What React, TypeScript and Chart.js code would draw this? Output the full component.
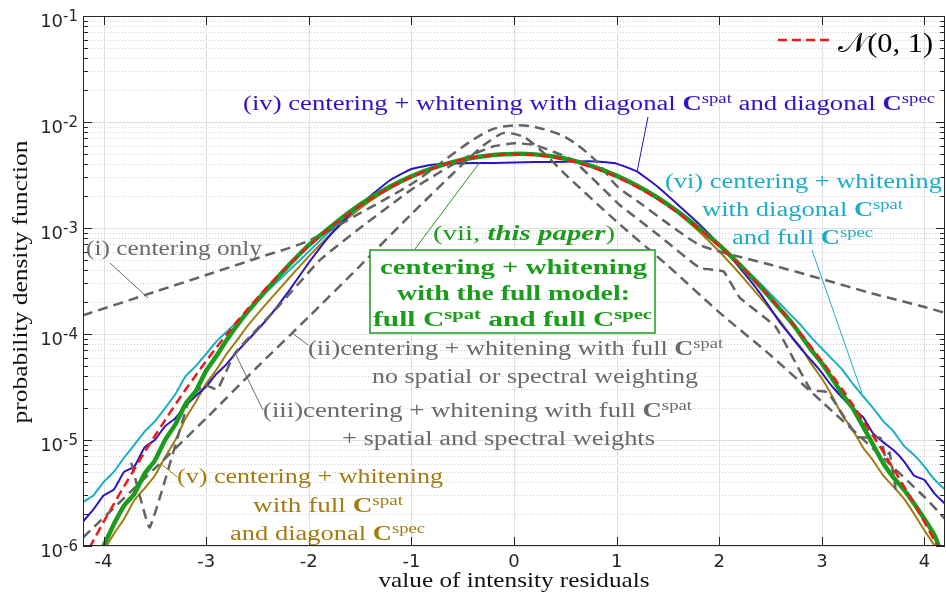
import React, { useEffect, useRef } from 'react';
import { Chart, registerables } from 'chart.js';

Chart.register(...registerables);

// ---------- data ----------
const xGrid = [
  -4.2, -4.1, -4.0, -3.9, -3.8, -3.7, -3.6, -3.5, -3.4, -3.3, -3.2, -3.1, -3.0, -2.9, -2.8, -2.7, -2.6,
  -2.4, -2.2, -2.0, -1.8, -1.6, -1.4, -1.2, -1.0, -0.8, -0.6, -0.4, -0.2, 0, 0.2, 0.4, 0.6, 0.8, 1.0, 1.2, 1.4, 1.6, 1.8, 2.0, 2.2, 2.4,
  2.6, 2.7, 2.8, 2.9, 3.0, 3.1, 3.2, 3.3, 3.4, 3.5, 3.6, 3.7, 3.8, 3.9, 4.0, 4.1, 4.2,
];

// N(0,1) reference (red dashed)
const normalRef = [
  7.4e-7, 1.12e-6, 1.68e-6, 2.49e-6, 3.66e-6, 5.3e-6, 7.7e-6, 1.09e-5, 1.54e-5, 2.16e-5, 2.99e-5, 4.09e-5, 5.56e-5, 7.46e-5, 9.9e-5, 1.31e-4, 1.7e-4,
  2.81e-4, 4.45e-4, 6.77e-4, 9.9e-4, 1.39e-3, 1.88e-3, 2.43e-3, 3.03e-3, 3.63e-3, 4.18e-3, 4.62e-3, 4.9e-3, 5.0e-3, 4.9e-3, 4.62e-3, 4.18e-3, 3.63e-3, 3.03e-3, 2.43e-3, 1.88e-3, 1.39e-3, 9.9e-4, 6.77e-4, 4.45e-4, 2.81e-4,
  1.7e-4, 1.31e-4, 9.9e-5, 7.46e-5, 5.56e-5, 4.09e-5, 2.99e-5, 2.16e-5, 1.54e-5, 1.09e-5, 7.7e-6, 5.3e-6, 3.66e-6, 2.49e-6, 1.68e-6, 1.12e-6, 7.4e-7,
];

// (vii) full model (green)
const fullModel = [
  5e-7, 7e-7, 1.0e-6, 1.6e-6, 2.4e-6, 3.1e-6, 4.8e-6, 6.4e-6, 1.0e-5, 1.4e-5, 2.2e-5, 2.9e-5, 4.5e-5, 6.2e-5, 8.8e-5, 1.2e-4, 1.6e-4,
  2.7e-4, 4.4e-4, 6.9e-4, 1.0e-3, 1.42e-3, 1.92e-3, 2.48e-3, 3.07e-3, 3.65e-3, 4.18e-3, 4.6e-3, 4.88e-3, 5.0e-3, 4.95e-3, 4.7e-3, 4.28e-3, 3.72e-3, 3.1e-3, 2.5e-3, 1.93e-3, 1.42e-3, 1.0e-3, 6.9e-4, 4.5e-4, 2.8e-4,
  1.68e-4, 1.3e-4, 9.6e-5, 7.0e-5, 5.3e-5, 3.8e-5, 2.7e-5, 2.0e-5, 1.35e-5, 9.0e-6, 6.0e-6, 4.4e-6, 3.4e-6, 2.5e-6, 1.8e-6, 1.25e-6, 7e-7,
];

// (iv) diagonal C_spat, diagonal C_spec (blue)
const diagSpatDiagSpec = [
  1.7e-6, 2.2e-6, 3.0e-6, 3.4e-6, 5.0e-6, 5.6e-6, 8.5e-6, 1.0e-5, 1.35e-5, 1.6e-5, 2.1e-5, 2.6e-5, 3.2e-5, 4.2e-5, 5.2e-5, 6.8e-5, 8.6e-5,
  1.4e-4, 2.5e-4, 4.7e-4, 8.4e-4, 1.35e-3, 2.0e-3, 2.85e-3, 3.6e-3, 3.95e-3, 4.05e-3, 4.1e-3, 4.1e-3, 4.15e-3, 4.2e-3, 4.2e-3, 4.25e-3, 4.25e-3, 4.05e-3, 3.4e-3, 2.45e-3, 1.65e-3, 1.1e-3, 7.0e-4, 4.2e-4, 2.4e-4,
  1.25e-4, 9.5e-5, 7.2e-5, 5.6e-5, 4.3e-5, 3.2e-5, 2.5e-5, 2.0e-5, 1.65e-5, 1.15e-5, 9.5e-6, 8.0e-6, 6.3e-6, 4.6e-6, 4.2e-6, 3.1e-6, 2.5e-6,
];

// (vi) diagonal C_spat, full C_spec (cyan)
const diagSpatFullSpec = [
  2.6e-6, 3.0e-6, 4.0e-6, 5.0e-6, 6.8e-6, 9.0e-6, 1.2e-5, 1.5e-5, 2.0e-5, 2.7e-5, 4.0e-5, 5.0e-5, 6.5e-5, 8.5e-5, 1.05e-4, 1.3e-4, 1.65e-4,
  2.55e-4, 3.9e-4, 6.0e-4, 9.2e-4, 1.33e-3, 1.85e-3, 2.42e-3, 3.03e-3, 3.65e-3, 4.2e-3, 4.65e-3, 4.95e-3, 5.1e-3, 5.05e-3, 4.75e-3, 4.3e-3, 3.75e-3, 3.1e-3, 2.45e-3, 1.88e-3, 1.4e-3, 1.0e-3, 6.9e-4, 4.6e-4, 3.0e-4,
  1.9e-4, 1.5e-4, 1.2e-4, 9.2e-5, 7.3e-5, 5.8e-5, 4.6e-5, 3.4e-5, 2.6e-5, 2.0e-5, 1.5e-5, 1.2e-5, 8.8e-6, 7.2e-6, 5.6e-6, 4.2e-6, 3.4e-6,
];

// (v) full C_spat, diagonal C_spec (gold)
const fullSpatDiagSpec = [
  4e-7, 6e-7, 9e-7, 1.3e-6, 1.8e-6, 2.7e-6, 3.5e-6, 4.6e-6, 6.9e-6, 1.0e-5, 1.6e-5, 2.3e-5, 3.4e-5, 4.6e-5, 6.5e-5, 8.7e-5, 1.18e-4,
  2.0e-4, 3.3e-4, 5.4e-4, 8.5e-4, 1.28e-3, 1.8e-3, 2.38e-3, 3.0e-3, 3.6e-3, 4.15e-3, 4.6e-3, 4.9e-3, 5.0e-3, 4.95e-3, 4.7e-3, 4.3e-3, 3.8e-3, 3.2e-3, 2.55e-3, 1.92e-3, 1.38e-3, 9.3e-4, 6.0e-4, 3.7e-4, 2.2e-4,
  1.3e-4, 9.6e-5, 7.4e-5, 5.2e-5, 3.8e-5, 2.6e-5, 1.7e-5, 1.25e-5, 8.5e-6, 6.4e-6, 4.6e-6, 3.6e-6, 2.8e-6, 2.0e-6, 1.4e-6, 1.0e-6, 6e-7,
];

// (i) centering only (gray dashed)
const xCentering = [-4.2, -3.5, -3.0, -2.5, -2.0, -1.5, -1.0, -0.7, -0.4, -0.2, 0, 0.2, 0.5, 0.8, 1.0, 1.2, 1.5, 1.8, 2.0, 2.5, 3.0, 3.5, 4.0, 4.2];
const centeringOnly = [1.5e-4, 2.5e-4, 3.6e-4, 5.2e-4, 7.6e-4, 1.38e-3, 2.6e-3, 4.2e-3, 6.8e-3, 8.6e-3, 9.3e-3, 9.0e-3, 7.2e-3, 4.3e-3, 2.5e-3, 1.8e-3, 1.1e-3, 7.0e-4, 6.0e-4, 4.5e-4, 3.3e-4, 2.4e-4, 1.8e-4, 1.58e-4];

// (ii) full C_spat, no weighting (gray dashed)
const xUnweighted = [-4.2, -3.5, -3.0, -2.5, -2.0, -1.5, -1.0, -0.5, -0.3, -0.1, 0.1, 0.3, 0.5, 1.0, 1.5, 2.0, 2.5, 3.0, 3.5, 4.0, 4.2];
const fullSpatUnweighted = [1.2e-6, 5.4e-6, 1.6e-5, 4.9e-5, 1.45e-4, 4.4e-4, 1.35e-3, 4.0e-3, 6.0e-3, 7.9e-3, 7.2e-3, 5.0e-3, 3.2e-3, 1.15e-3, 4.4e-4, 1.6e-4, 6.3e-5, 2.3e-5, 8.3e-6, 2.9e-6, 1.8e-6];

// (iii) full C_spat + spatial and spectral weights (gray dashed)
const xWeighted = [-3.73, -3.55, -3.16, -3.01, -2.89, -2.72, -2.3, -1.89, -1.5, -1.0, -0.5, -0.2, 0, 0.2, 0.57, 1.03, 1.4, 1.81, 2.04, 2.2, 2.55, 2.89, 3.06, 3.35, 3.57, 3.62, 3.66, 3.72];
const fullSpatWeighted = [6.1e-6, 1.5e-6, 2.5e-5, 3.3e-5, 3.0e-5, 6.6e-5, 1.8e-4, 5.0e-4, 1.0e-3, 2.3e-3, 4.5e-3, 5.9e-3, 6.3e-3, 6.1e-3, 4.4e-3, 1.65e-3, 8.7e-4, 4.2e-4, 3.9e-4, 2.2e-4, 1.17e-4, 3.0e-5, 2.8e-5, 1.07e-5, 1.05e-5, 6.8e-6, 7.6e-6, 3.4e-6];

// ticks
const xTickValues = [-4, -3, -2, -1, 0, 1, 2, 3, 4];
const xTickLabels = ['-4', '-3', '-2', '-1', '0', '1', '2', '3', '4'];
const yDecades = [1e-6, 1e-5, 1e-4, 1e-3, 1e-2, 1e-1];
const yExponents = ['-6', '-5', '-4', '-3', '-2', '-1'];

// ---------- styles ----------
const RED = '#f01818';
const GREEN = '#1c9c1c';
const BLUE = '#2a14c8';
const CYAN = '#1aaec6';
const GOLD = '#a37c0e';
const GRAY = '#636363';
const GRAYTXT = '#6a6a6a';
const SERIF = "'Liberation Serif', 'DejaVu Serif', serif";
const SANS = "'DejaVu Sans', sans-serif";

type Seg = [string, string];
type Line = { segs: Seg[]; cx: number; w: number; y: number };
type Block = { color: string; size: number; lines: Line[]; leader?: number[]; box?: number[] };

const C = (s: string, sup: string): Seg[] => [[s, 'b'], [sup, 's']];

const blocks: Block[] = [
  {
    color: BLUE,
    size: 20,
    lines: [{ segs: [['(iv) centering + whitening with diagonal ', ''], ...C('C', 'spat'), [' and diagonal ', ''], ...C('C', 'spec')], cx: 589, w: 692, y: 110 }],
    leader: [648, 117, 637, 172],
  },
  {
    color: CYAN,
    size: 20,
    lines: [
      { segs: [['(vi) centering + whitening', '']], cx: 803.5, w: 277, y: 188 },
      { segs: [['with diagonal ', ''], ...C('C', 'spat')], cx: 802.5, w: 201, y: 216 },
      { segs: [['and full ', ''], ...C('C', 'spec')], cx: 802.5, w: 141, y: 244 },
    ],
    leader: [812, 250, 862, 393],
  },
  {
    color: GRAYTXT,
    size: 20,
    lines: [{ segs: [['(i) centering only', '']], cx: 174, w: 176, y: 255 }],
    leader: [110, 263, 148, 298],
  },
  {
    color: GREEN,
    size: 20,
    lines: [
      { segs: [['(vii, ', ''], ['this paper', 'bi'], [')', '']], cx: 524, w: 182, y: 240 },
      { segs: [['centering + whitening', 'b']], cx: 513.5, w: 267, y: 274 },
      { segs: [['with the full model:', 'b']], cx: 513.5, w: 233, y: 300 },
      { segs: [['full ', 'b'], ['C', 'b'], ['spat', 'bs'], [' and full ', 'b'], ['C', 'b'], ['spec', 'bs']], cx: 512.5, w: 279, y: 326 },
    ],
    leader: [415, 249, 480, 162],
    box: [370, 250, 655, 333],
  },
  {
    color: GRAYTXT,
    size: 20,
    lines: [
      { segs: [['(ii)centering + whitening with full ', ''], ...C('C', 'spat')], cx: 515.5, w: 415, y: 355 },
      { segs: [['no spatial or spectral weighting', '']], cx: 535, w: 326, y: 383 },
    ],
    leader: [308, 345, 292, 333],
  },
  {
    color: GRAYTXT,
    size: 20,
    lines: [
      { segs: [['(iii)centering + whitening with full ', ''], ...C('C', 'spat')], cx: 477.5, w: 429, y: 417 },
      { segs: [['+ spatial and spectral weights', '']], cx: 498.5, w: 313, y: 445 },
    ],
    leader: [263, 410, 235, 353],
  },
  {
    color: GOLD,
    size: 20,
    lines: [
      { segs: [['(v) centering + whitening', '']], cx: 310, w: 266, y: 483 },
      { segs: [['with full ', ''], ...C('C', 'spat')], cx: 328, w: 150, y: 512 },
      { segs: [['and diagonal ', ''], ...C('C', 'spec')], cx: 327.5, w: 195, y: 540 },
    ],
    leader: [177, 477, 160, 463],
  },
];

function fontFor(style: string, size: number, family = SERIF) {
  const sup = style.includes('s');
  const sz = sup ? size * 0.7 : size;
  return `${style.includes('i') ? 'italic ' : ''}${style.includes('b') ? 'bold ' : ''}${sz.toFixed(2)}px ${family}`;
}
function richWidth(ctx: CanvasRenderingContext2D, segs: Seg[], size: number, family = SERIF) {
  let w = 0;
  for (const [t, st] of segs) {
    ctx.font = fontFor(st, size, family);
    w += ctx.measureText(t).width;
  }
  return w;
}
function drawSegs(ctx: CanvasRenderingContext2D, segs: Seg[], x: number, y: number, size: number, family = SERIF) {
  let cx = x;
  for (const [t, st] of segs) {
    ctx.font = fontFor(st, size, family);
    const dy = st.includes('s') ? -size * 0.36 : 0;
    ctx.fillText(t, cx, y + dy);
    cx += ctx.measureText(t).width;
  }
}
// draw text at a nominal size, stretched horizontally to a target width
function drawFit(ctx: CanvasRenderingContext2D, segs: Seg[], cx: number, y: number, w: number, size: number) {
  const w0 = richWidth(ctx, segs, size);
  const sx = w / w0;
  ctx.save();
  ctx.translate(cx - w / 2, y);
  ctx.scale(sx, 1);
  drawSegs(ctx, segs, 0, 0, size);
  ctx.restore();
}

const gridPlugin = {
  id: 'gridBg',
  beforeDatasetsDraw(chart: any) {
    const { ctx, chartArea } = chart;
    const { left, right, top, bottom } = chartArea;
    const xs = chart.scales.x;
    const ys = chart.scales.y;
    ctx.save();
    ctx.lineWidth = 1;
    ctx.strokeStyle = '#cfcfcf';
    ctx.setLineDash([1, 2]);
    for (let i = 0; i < yDecades.length - 1; i++) {
      for (let m = 2; m <= 9; m++) {
        const py = Math.round(ys.getPixelForValue(yDecades[i] * m)) + 0.5;
        ctx.beginPath();
        ctx.moveTo(left, py);
        ctx.lineTo(right, py);
        ctx.stroke();
      }
    }
    ctx.setLineDash([]);
    ctx.strokeStyle = '#e0e0e0';
    for (const d of yDecades) {
      const py = Math.round(ys.getPixelForValue(d)) + 0.5;
      ctx.beginPath();
      ctx.moveTo(left, py);
      ctx.lineTo(right, py);
      ctx.stroke();
    }
    for (const v of xTickValues) {
      const px = Math.round(xs.getPixelForValue(v)) + 0.5;
      ctx.beginPath();
      ctx.moveTo(px, top);
      ctx.lineTo(px, bottom);
      ctx.stroke();
    }
    ctx.restore();
  },
};

const overlayPlugin = {
  id: 'overlay',
  afterDraw(chart: any) {
    const { ctx, chartArea } = chart;
    const { left, right, top, bottom } = chartArea;
    const xs = chart.scales.x;
    const ys = chart.scales.y;
    ctx.save();
    // frame
    ctx.strokeStyle = '#262626';
    ctx.lineWidth = 1;
    ctx.setLineDash([]);
    ctx.strokeRect(Math.round(left) + 0.5, Math.round(top) + 0.5, Math.round(right - left) - 1, Math.round(bottom - top) - 1);
    // y ticks (both sides)
    for (let i = 0; i < yDecades.length; i++) {
      for (let m = 1; m <= 9; m++) {
        if (i === yDecades.length - 1 && m > 1) break;
        const py = Math.round(ys.getPixelForValue(yDecades[i] * m)) + 0.5;
        const len = m === 1 ? 9 : 5;
        ctx.beginPath();
        ctx.moveTo(left, py);
        ctx.lineTo(left + len, py);
        ctx.moveTo(right, py);
        ctx.lineTo(right - len, py);
        ctx.stroke();
      }
    }
    // x ticks (top and bottom)
    for (const v of xTickValues) {
      const px = Math.round(xs.getPixelForValue(v)) + 0.5;
      ctx.beginPath();
      ctx.moveTo(px, bottom);
      ctx.lineTo(px, bottom - 9);
      ctx.moveTo(px, top);
      ctx.lineTo(px, top + 9);
      ctx.stroke();
    }
    // tick labels
    ctx.fillStyle = '#262626';
    ctx.textBaseline = 'alphabetic';
    ctx.textAlign = 'center';
    ctx.font = `18px ${SANS}`;
    xTickValues.forEach((v, i) => {
      ctx.fillText(xTickLabels[i], xs.getPixelForValue(v), 567);
    });
    ctx.textAlign = 'left';
    yDecades.forEach((d, i) => {
      const py = ys.getPixelForValue(d);
      ctx.font = `15px ${SANS}`;
      const supW = ctx.measureText(yExponents[i]).width;
      ctx.font = `18px ${SANS}`;
      const mainW = ctx.measureText('10').width;
      const x0 = 78 - supW - mainW;
      ctx.fillText('10', x0, py + 11);
      ctx.font = `15px ${SANS}`;
      ctx.fillText(yExponents[i], x0 + mainW, py + 5);
    });
    // axis titles
    ctx.fillStyle = '#111111';
    ctx.save();
    ctx.translate(27, 282);
    ctx.rotate(-Math.PI / 2);
    drawFit(ctx, [['probability density function', '']], 0, 0, 283, 21);
    ctx.restore();
    drawFit(ctx, [['value of intensity residuals', '']], 514, 587, 271, 21);

    // annotation blocks
    for (const b of blocks) {
      if (b.box) {
        const [x1, y1, x2, y2] = b.box;
        ctx.fillStyle = '#ffffff';
        ctx.fillRect(x1, y1, x2 - x1, y2 - y1);
        ctx.strokeStyle = b.color;
        ctx.lineWidth = 1.5;
        ctx.strokeRect(x1, y1, x2 - x1, y2 - y1);
      }
      if (b.leader) {
        const [a1, a2, a3, a4] = b.leader;
        ctx.strokeStyle = b.color;
        ctx.lineWidth = 1;
        ctx.beginPath();
        ctx.moveTo(a1, a2);
        ctx.lineTo(a3, a4);
        ctx.stroke();
      }
      ctx.fillStyle = b.color;
      for (const l of b.lines) drawFit(ctx, l.segs, l.cx, l.y, l.w, b.size);
    }

    // legend
    ctx.strokeStyle = RED;
    ctx.lineWidth = 2.5;
    ctx.setLineDash([9, 5]);
    ctx.beginPath();
    ctx.moveTo(778, 40);
    ctx.lineTo(831, 40);
    ctx.stroke();
    ctx.setLineDash([]);
    ctx.fillStyle = '#000000';
    drawFit(ctx, [['\u{1D4A9}(0, 1)', '']], 885.5, 52, 95, 27);
    ctx.restore();
  },
};

function pts(xv: number[], yv: number[]) {
  return xv.map((x, i) => ({ x, y: yv[i] }));
}

export default function App() {
  const ref = useRef<HTMLCanvasElement>(null);
  useEffect(() => {
    const canvas = ref.current;
    if (!canvas) return;
    const chart = new Chart(canvas, {
      type: 'line',
      data: {
        datasets: [
          { label: 'N(0,1)', data: pts(xGrid, normalRef), borderColor: RED, borderWidth: 2.5, borderDash: [9, 5], order: 0 },
          { label: '(vii)', data: pts(xGrid, fullModel), borderColor: GREEN, borderWidth: 4.5, order: 1 },
          { label: '(i)', data: pts(xCentering, centeringOnly), borderColor: GRAY, borderWidth: 2.5, borderDash: [10, 6], tension: 0.3, order: 2 },
          { label: '(ii)', data: pts(xUnweighted, fullSpatUnweighted), borderColor: GRAY, borderWidth: 2.5, borderDash: [10, 6], tension: 0.2, order: 2 },
          { label: '(iii)', data: pts(xWeighted, fullSpatWeighted), borderColor: GRAY, borderWidth: 2.5, borderDash: [10, 6], tension: 0.1, order: 2 },
          { label: '(iv)', data: pts(xGrid, diagSpatDiagSpec), borderColor: BLUE, borderWidth: 2, order: 3 },
          { label: '(vi)', data: pts(xGrid, diagSpatFullSpec), borderColor: CYAN, borderWidth: 2, order: 3 },
          { label: '(v)', data: pts(xGrid, fullSpatDiagSpec), borderColor: GOLD, borderWidth: 2, order: 3 },
        ],
      },
      options: {
        animation: false,
        responsive: false,
        devicePixelRatio: 1,
        elements: { point: { radius: 0 }, line: { tension: 0.1, fill: false } },
        layout: { padding: { left: 83, right: 1, top: 16, bottom: 50 } },
        scales: {
          x: { type: 'linear', min: -4.2, max: 4.2, display: false },
          y: { type: 'logarithmic', min: 1e-6, max: 1e-1, display: false },
        },
        plugins: { legend: { display: false }, tooltip: { enabled: false } },
      },
      plugins: [gridPlugin, overlayPlugin],
    } as any);
    return () => chart.destroy();
  }, []);
  return (
    <div style={{ position: 'fixed', left: 0, top: 0, width: 946, height: 596, background: '#ffffff' }}>
      <canvas ref={ref} width={946} height={596} style={{ display: 'block', width: 946, height: 596 }} />
    </div>
  );
}
